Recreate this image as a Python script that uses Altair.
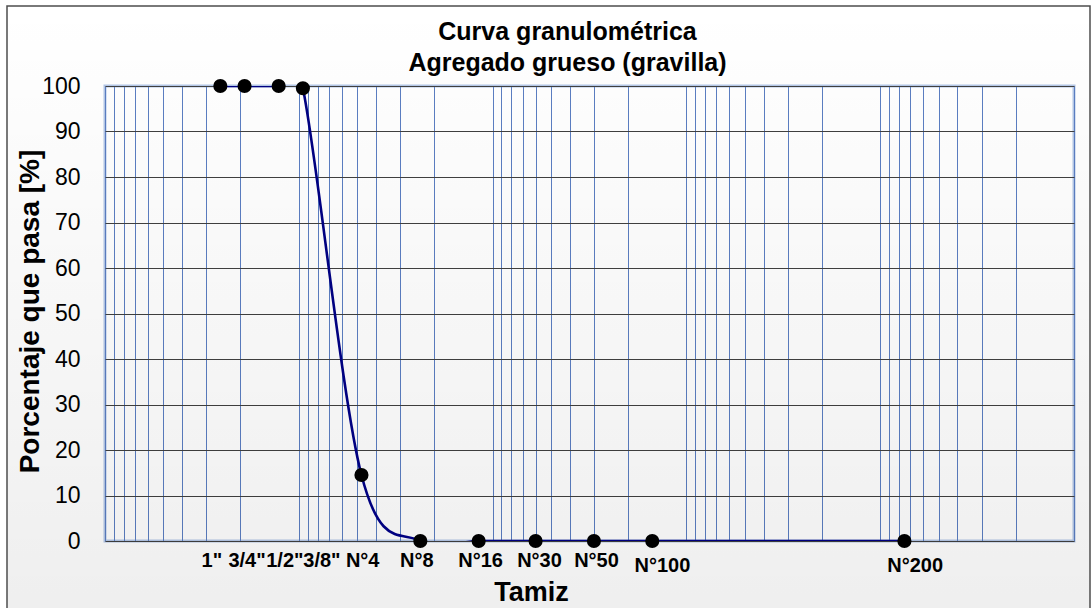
import altair as alt
import pandas as pd

# ---- data ----
tamices = ['1"', '3/4"', '1/2"', '3/8"', "N°4", "N°8", "N°16", "N°30", "N°50", "N°100", "N°200"]
abertura_mm = [25.4, 19.05, 12.7, 9.525, 4.75, 2.36, 1.18, 0.6, 0.3, 0.15, 0.0075]
pasa_pct = [100, 100, 100, 99.5, 14.5, 0, 0, 0, 0, 0, 0]
# where each sieve label sits along the (log) sieve axis, in mm
etiqueta_mm = [28.1, 18.5, 11.8, 7.6, 4.68, 2.46, 1.153, 0.573, 0.291, 0.133, 0.0066]
etiqueta_fila = [1, 1, 1, 1, 1, 1, 1, 1, 1, 2, 2]
y_ticks = list(range(0, 101, 10))

FONT = "Liberation Sans, Arial, sans-serif"
W, H = 969, 455

df = pd.DataFrame({"tamiz": tamices, "abertura": abertura_mm, "pasa": pasa_pct})
lab_df = pd.DataFrame({"tamiz": tamices, "pos": etiqueta_mm, "fila": etiqueta_fila})
frame_df = pd.DataFrame({"marco": [0]})

x_scale = alt.Scale(type="log", domain=[0.001, 100], reverse=True, nice=False)
y_scale = alt.Scale(domain=[0, 100], nice=False)

x_axis = alt.Axis(
    title="Tamiz", labels=False, ticks=False, domain=False,
    grid=True, gridColor="#5b7ec2", gridWidth=1, gridOpacity=1,
    titleFont=FONT, titleFontSize=27, titleFontWeight="bold", titleColor="black",
    titleX=426, titleY=59, titleBaseline="alphabetic", titleAlign="center",
)
y_axis = alt.Axis(
    title="Porcentaje que pasa [%]", values=y_ticks,
    grid=True, gridColor="#404040", gridWidth=1, gridOpacity=1,
    ticks=False, tickSize=0, domain=False,
    labelFont=FONT, labelFontSize=23, labelColor="black", labelPadding=25,
    titleFont=FONT, titleFontSize=28, titleFontWeight="bold", titleColor="black",
    titleX=-67, titleY=225, titleAngle=270, titleAlign="center", titleBaseline="alphabetic",
)

# soft background shading + outer frame
bg = alt.Chart(frame_df).mark_rect(
    fill=alt.Gradient(
        gradient="linear",
        stops=[alt.GradientStop(color="rgba(0,0,0,0)", offset=0),
               alt.GradientStop(color="rgba(0,0,0,0.065)", offset=1)],
        x1=0, x2=0, y1=0, y2=1,
    ),
    stroke="#4d4d4d", strokeWidth=1.5,
).encode(x=alt.value(-98), x2=alt.value(985), y=alt.value(-80), y2=alt.value(545))

line = alt.Chart(df).mark_line(
    color="#000080", strokeWidth=2.6, interpolate="cardinal", tension=0, clip=True
).encode(
    x=alt.X("abertura:Q", scale=x_scale, axis=x_axis),
    y=alt.Y("pasa:Q", scale=y_scale, axis=y_axis),
)

points = alt.Chart(df).mark_circle(color="black", size=200, opacity=1).encode(
    x=alt.X("abertura:Q", scale=x_scale),
    y=alt.Y("pasa:Q", scale=y_scale),
)

lab1 = alt.Chart(lab_df).transform_filter("datum.fila == 1").mark_text(
    font=FONT, fontSize=20, fontWeight="bold", color="black", baseline="alphabetic", dy=26
).encode(x=alt.X("pos:Q", scale=x_scale), y=alt.datum(0), text="tamiz:N")

lab2 = alt.Chart(lab_df).transform_filter("datum.fila == 2").mark_text(
    font=FONT, fontSize=20, fontWeight="bold", color="black", baseline="alphabetic", dy=31
).encode(x=alt.X("pos:Q", scale=x_scale), y=alt.datum(0), text="tamiz:N")

chart = alt.layer(bg, line, points, lab1, lab2).properties(
    width=W, height=H,
    title=alt.TitleParams(
        text=["Curva granulométrica", "Agregado grueso (gravilla)"],
        font=FONT, fontSize=25, fontWeight="bold", color="black",
        anchor="middle", frame="group", dx=-22, offset=-95.75, lineHeight=31, baseline="bottom",
    ),
    autosize=alt.AutoSizeParams(type="none"),
    padding={"left": 105, "top": 86, "right": 18, "bottom": 67},
    background="white",
).configure_view(
    stroke="#b4c7e7", strokeWidth=3
)

chart.save("out.html", embed_options={"renderer": "svg", "actions": False})
